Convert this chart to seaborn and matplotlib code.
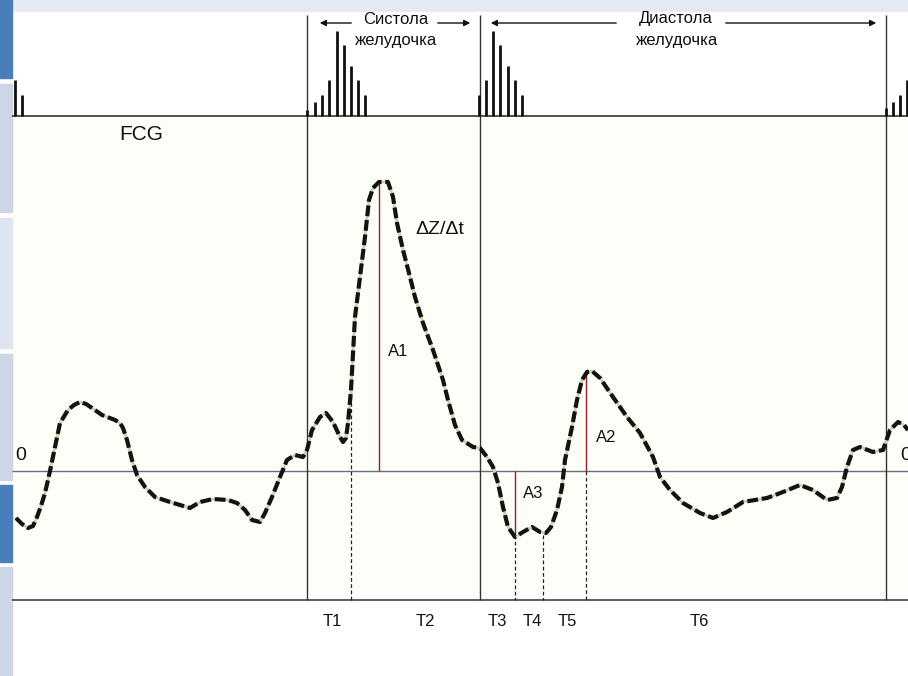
import matplotlib
matplotlib.use("Agg")
import matplotlib.pyplot as plt
import seaborn as sns
import pandas as pd
from matplotlib.patches import Rectangle

sns.set_theme(style="white")
plt.rcParams['font.family'] = ['Liberation Sans', 'DejaVu Sans']

# ---- data (pixel-like units: x = time, y = screen height) ----
curve_x = [16, 22, 28, 33, 37, 41, 45, 50, 55, 60, 68, 74, 80, 86, 92, 102, 115, 120, 123, 127,
           132, 137, 145, 155, 170, 180, 190, 200, 213, 228, 237, 245, 252, 260, 265, 272, 280,
           287, 295, 303, 307, 312, 320, 326, 333, 340, 343, 346, 348, 351, 355, 360, 365, 369,
           373, 379, 388, 393, 397, 403, 410, 415, 423, 433, 443, 448, 455, 462, 473, 480, 487,
           493, 498, 503, 508, 515, 523, 532, 540, 546, 551, 557, 562, 565, 572, 577, 582, 587,
           592, 600, 613, 627, 640, 653, 660, 670, 683, 700, 713, 727, 743, 767, 783, 800, 813,
           827, 837, 842, 847, 853, 860, 873, 883, 890, 898, 904, 908]
curve_y = [518, 524, 528, 526, 517, 506, 493, 471, 447, 423, 410, 405, 402, 404, 408, 415, 420, 423, 428, 440,
           460, 475, 487, 497, 502, 505, 508, 502, 499, 500, 503, 510, 520, 522, 513, 497, 477,
           460, 455, 457, 450, 430, 417, 413, 422, 437, 442, 438, 423, 390, 317, 277, 237, 200,
           188, 182, 182, 197, 223, 250, 277, 297, 323, 350, 380, 400, 425, 440, 447, 448, 457,
           467, 483, 507, 527, 537, 532, 527, 532, 533, 527, 510, 487, 460, 427, 400, 380, 372,
           371, 378, 397, 417, 433, 457, 477, 490, 503, 513, 518, 512, 502, 498, 492, 485, 490,
           500, 498, 487, 467, 450, 447, 452, 450, 430, 422, 425, 430]

# FCG (phonocardiogram) bars: position and top
fcg_x = [15, 22, 307, 315, 322, 329, 337, 344, 351, 358, 365, 479, 486, 493, 500, 508, 515, 522, 886, 893, 900, 907]
fcg_top = [80, 95, 110, 102, 95, 80, 31, 45, 66, 80, 95, 95, 80, 31, 45, 66, 80, 95, 108, 102, 95, 80]

phase_x = [307, 480, 886]                 # systole / diastole boundaries
t_marks = [351, 515, 543, 586]            # dashed time markers
t_labels = ["T1", "T2", "T3", "T4", "T5", "T6"]
t_label_x = [332, 425, 497, 532, 567, 699]
amp_labels = ["A1", "A3", "A2"]
amp_x = [379, 515, 586]
amp_top = [182, 471, 370]
amp_bottom = [471, 535, 471]
amp_label_x = [398, 533, 606]
amp_label_y = [352, 494, 437]

df = pd.DataFrame({"t": curve_x, "z": curve_y})

W, H = 908, 676
fig = plt.figure(figsize=(W / 100, H / 100), dpi=100)
ax = fig.add_axes([0, 0, 1, 1])
ax.set_xlim(0, W)
ax.set_ylim(H, 0)
ax.axis("off")

# slide background pieces
ax.add_patch(Rectangle((0, 0), W, 12, color="#e3ebf1", zorder=0))
ax.add_patch(Rectangle((12, 12), W - 12, H - 12, color="#ffffff", zorder=0))
ax.add_patch(Rectangle((12, 116), W - 12, 484, color="#fefef9", zorder=0))
strips = [(0, 78, "#4a7ebb"), (84, 212, "#cdd5e6"), (218, 348, "#dfe5f0"),
          (354, 480, "#cdd5e6"), (485, 562, "#4a7ebb"), (567, 676, "#cdd5e6")]
for y0, y1, c in strips:
    ax.add_patch(Rectangle((0, y0), 12, y1 - y0, color=c, zorder=1))

# horizontal reference lines
ax.hlines([116], 12, W, color="#222222", lw=1.1, zorder=2)
ax.hlines([600], 12, W, color="#333333", lw=1.1, zorder=2)
ax.hlines([471], 12, W, color="#6a6a80", lw=1.0, zorder=2)

# phase boundaries
ax.vlines(phase_x, 15, 600, color="#333333", lw=1.0, zorder=2)

# FCG bars
ax.vlines(fcg_x, fcg_top, 116, color="#111111", lw=2.0, zorder=3)

# dashed time markers (from curve down to baseline)
marker_top = [390, 535, 535, 471]
ax.vlines(t_marks, marker_top, 600, color="#222222", lw=0.9, linestyles=(0, (3, 2)), zorder=2)

# amplitude lines
ax.vlines(amp_x, amp_top, amp_bottom, color="#9b1b2a", lw=1.0, zorder=2)

# the curve
sns.lineplot(data=df, x="t", y="z", ax=ax, sort=False, estimator=None,
             color="#c9d2b0", lw=2.0, zorder=4)
sns.lineplot(data=df, x="t", y="z", ax=ax, sort=False, estimator=None,
             color="#101510", lw=3.0, zorder=5, dashes=False)
ax.lines[-1].set_linestyle((0, (2.6, 0.9)))
ax.set_xlim(0, W)
ax.set_ylim(H, 0)
ax.axis("off")

# phase arrows
arr = dict(arrowstyle="-|>", color="#111111", lw=1.0, mutation_scale=9)
ax.annotate("", xy=(317, 23), xytext=(354, 23), arrowprops=arr)
ax.annotate("", xy=(473, 23), xytext=(435, 23), arrowprops=arr)
ax.annotate("", xy=(488, 23), xytext=(619, 23), arrowprops=arr)
ax.annotate("", xy=(879, 23), xytext=(723, 23), arrowprops=arr)
ax.text(396, 19, "Систола", fontsize=12, ha="center", va="center", color="#111111")
ax.text(396, 41, "желудочка", fontsize=12, ha="center", va="center", color="#111111")
ax.text(676, 19, "Диастола", fontsize=12, ha="center", va="center", color="#111111")
ax.text(677, 41, "желудочка", fontsize=12, ha="center", va="center", color="#111111")

ax.text(141, 135, "FCG", fontsize=15, ha="center", va="center", color="#111111")
ax.text(440, 229, "ΔZ/Δt", fontsize=14, ha="center", va="center", color="#111111")
ax.text(21, 455, "0", fontsize=14, ha="center", va="center", color="#111111")
ax.text(906, 455, "0", fontsize=14, ha="center", va="center", color="#111111")

for lab, x, y in zip(amp_labels, amp_label_x, amp_label_y):
    ax.text(x, y, lab, fontsize=12, ha="center", va="center", color="#111111")
for lab, x in zip(t_labels, t_label_x):
    ax.text(x, 622, lab, fontsize=12, ha="center", va="center", color="#111111")

fig.savefig("out.png", dpi=100)
